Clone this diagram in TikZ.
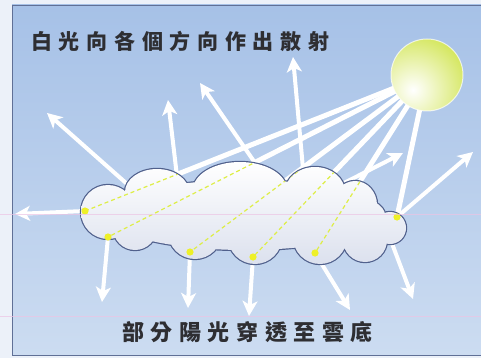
\documentclass[tikz,border=0pt]{standalone}
\usepackage{fontspec}
\usetikzlibrary{arrows.meta}
\newfontfamily\cjk{Noto Sans CJK TC}[LetterSpace=32]
\newfontfamily\cjkwide{Noto Sans CJK TC}[LetterSpace=30]

\definecolor{pagebg}{RGB}{236,241,249}
\definecolor{skytop}{RGB}{166,193,231}
\definecolor{skybot}{RGB}{204,220,241}
\definecolor{framec}{RGB}{96,112,150}
\definecolor{cloudedge}{RGB}{80,96,140}
\definecolor{cloudbot}{RGB}{220,225,238}
\definecolor{sunyel}{RGB}{208,228,78}
\definecolor{raydash}{RGB}{222,238,70}
\definecolor{dotc}{RGB}{238,240,40}
\definecolor{scanpink}{RGB}{236,196,228}
\definecolor{txt}{RGB}{46,46,50}

\tikzset{
  cloudshape/.style={insert path={
    (108,212) circle (27pt)
    (157,192) ellipse (32pt and 23pt)
    (240,190) ellipse (47pt and 28pt)
    (315,192) ellipse (30pt and 25pt)
    (355,205) ellipse (22pt and 24pt)
    (390,228) circle (16pt)
    (135,228) circle (22pt)
    (195,232) circle (27pt)
    (255,237) circle (27pt)
    (320,237) circle (27pt)
    (365,240) circle (22pt)
    (245,215) ellipse (140pt and 35pt)}},
  sunray/.style={draw=white, line width=5pt},
  scatter/.style={draw=white, line width=4pt,
    -{Stealth[length=15pt,width=15pt,inset=4pt]}},
  passray/.style={draw=raydash, line width=1.2pt, dash pattern=on 4pt off 3pt},
  hitdot/.style={fill=dotc},
  scanline/.style={draw=scanpink, line width=0.8pt, opacity=0.7},
  label/.style={anchor=west, text=txt, inner sep=0pt,
    font=\cjk\bfseries\fontsize{21pt}{24pt}\selectfont},
  caplabel/.style={anchor=west, text=txt, inner sep=0pt,
    font=\cjkwide\bfseries\fontsize{22pt}{25pt}\selectfont},
}

\begin{document}
\begin{tikzpicture}[x=1pt,y=-1pt]
\useasboundingbox (0,0) rectangle (481,358);

% page and sky panel
\fill[pagebg] (0,0) rectangle (481,358);
\shade[top color=skytop, bottom color=skybot] (12,5) rectangle (481,355);
\draw[framec, line width=0.8pt] (481,5) -- (12,5) -- (12,355) -- (481,355);

% sun and points where the light meets the cloud
\coordinate (sc) at (427,75);
\coordinate (p1) at (85,211);
\coordinate (p2) at (108,237);
\coordinate (p3) at (190,252);
\coordinate (p4) at (253,257);
\coordinate (p5) at (315,253);
\coordinate (p6) at (397,217);

% scattered light: start points inside the cloud, tips outside
\coordinate (u1s) at (135,191);  \coordinate (u1) at (47,113);
\coordinate (u2s) at (178,185);  \coordinate (u2) at (168,100);
\coordinate (u3s) at (262,173);  \coordinate (u3) at (200,83);
\coordinate (u4s) at (304,180);  \coordinate (u4) at (293,57);
\coordinate (u5s) at (340,185);  \coordinate (u5) at (403,153);
\coordinate (r6) at (473,152);
\coordinate (l1) at (15,214);
\coordinate (d2) at (102,302);
\coordinate (d3) at (188,308);
\coordinate (d4) at (249,316);
\coordinate (d5) at (350,310);
\coordinate (d6s) at (385,225);  \coordinate (d6) at (413,299);

% incoming sunlight
\foreach \p in {p1,p2,p3,p4,p5,p6} \draw[sunray] (sc) -- (\p);

% light scattered in every direction
\draw[scatter] (u1s) -- (u1);
\draw[scatter] (u2s) -- (u2);
\draw[scatter] (u3s) -- (u3);
\draw[scatter] (u4s) -- (u4);
\draw[scatter] (u5s) -- (u5);
\draw[scatter] (p6) -- (r6);
\draw[scatter] (p1) -- (l1);
\draw[scatter] (p2) -- (d2);
\draw[scatter] (p3) -- (d3);
\draw[scatter] (p4) -- (d4);
\draw[scatter] (p5) -- (d5);
\draw[scatter] (d6s) -- (d6);

% cloud: doubled outline, then the shaded body on top
\draw[cloudedge, line width=2.4pt, cloudshape];
\shade[top color=white, middle color=white, bottom color=cloudbot, cloudshape];

% light passing through the cloud
\begin{scope}
  \clip[cloudshape];
  \foreach \p in {p1,p2,p3,p4,p5,p6} \draw[passray] (sc) -- (\p);
\end{scope}
\foreach \p in {p1,p2,p3,p4,p5,p6} \fill[hitdot] (\p) circle (3.6pt);

% sun
\node[circle, minimum size=72pt, inner sep=0pt] (sun) at (sc) {};
\begin{scope}
  \clip (sun.center) circle (36pt);
  \shade[inner color=white, outer color=sunyel] (413,90) circle (62pt);
\end{scope}
\draw[white, line width=1pt, opacity=0.7] (sun.center) circle (36pt);

% faint horizontal streaks across the panel
\draw[scanline] (0,214) -- (481,214);
\draw[scanline] (0,316) -- (481,316);

% captions
\node[label] (title) at (31,41) {白光向各個方向作出散射};
\node[caplabel] (caption) at (122,332) {部分陽光穿透至雲底};
\end{tikzpicture}
\end{document}
